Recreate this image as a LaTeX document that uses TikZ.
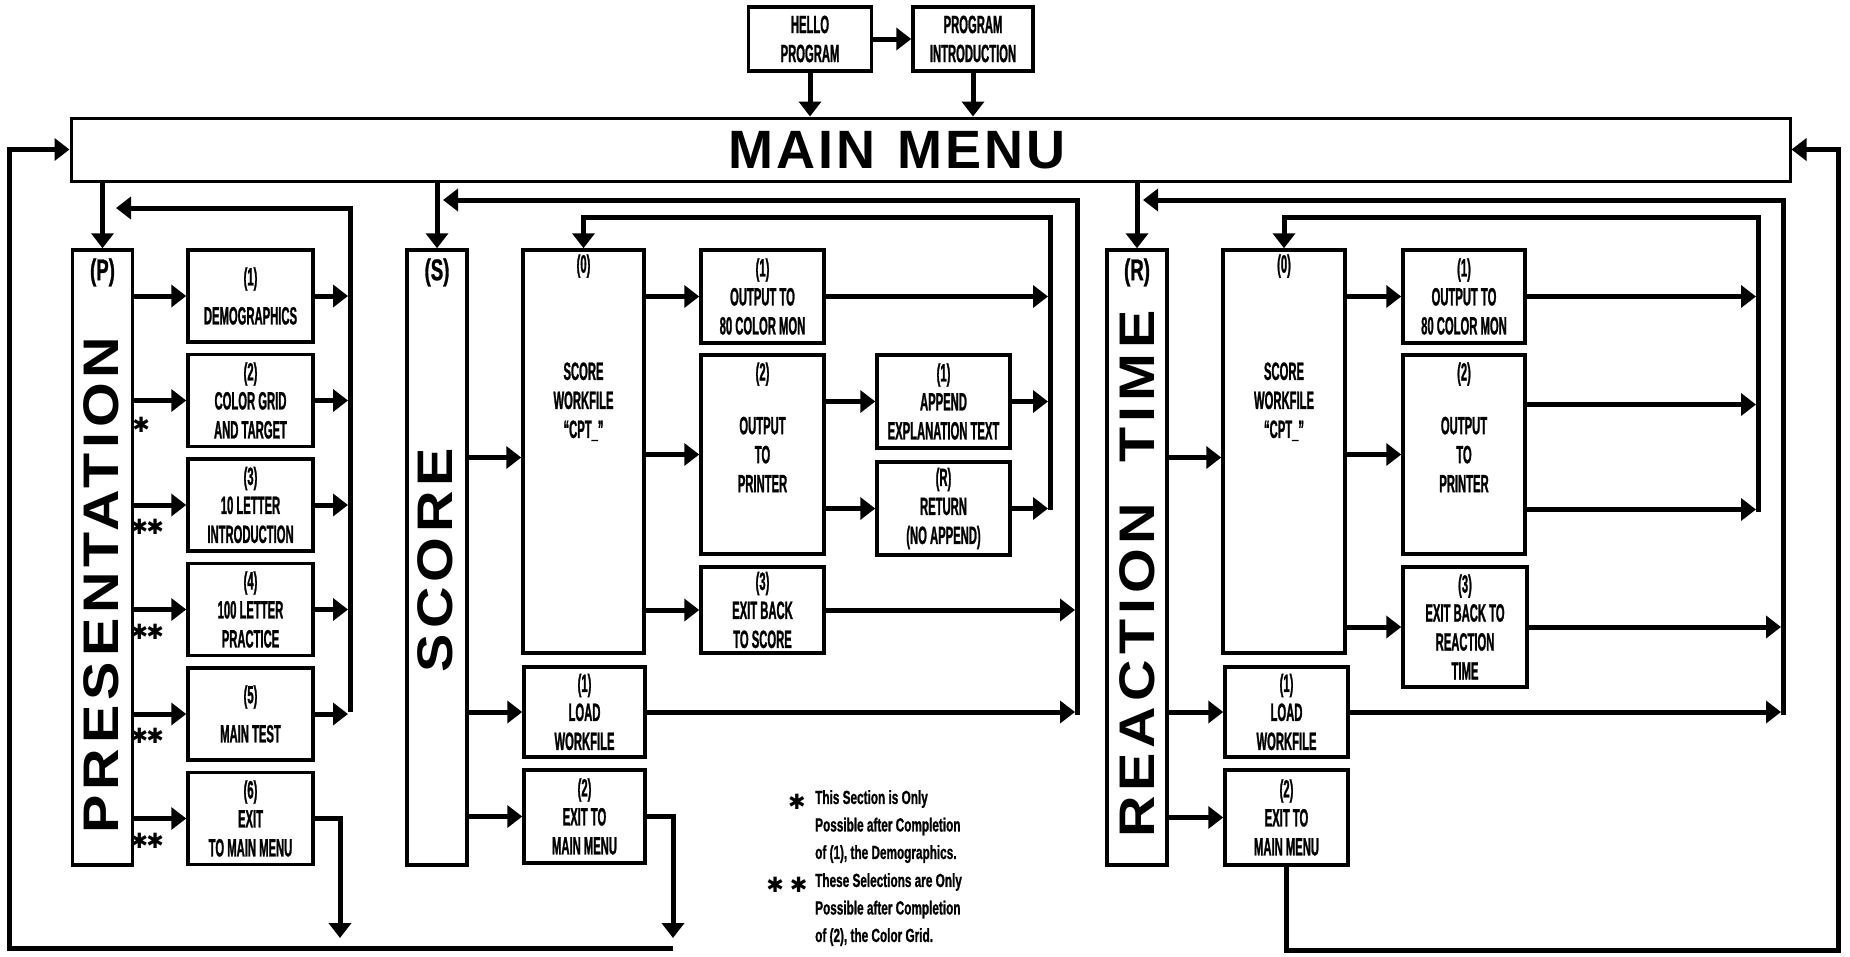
\documentclass[tikz,border=0pt]{standalone}
\usepackage{fontspec}
\setmainfont{Liberation Sans}
\newfontfamily\condfont[FakeStretch=0.45, FakeBold=1]{Liberation Sans}
\newfontfamily\notefont[FakeStretch=0.62, FakeBold=1]{Liberation Sans}
\newfontfamily\widefont[FakeStretch=1.15, LetterSpace=10]{Liberation Sans}
\newfontfamily\menufont[LetterSpace=6]{Liberation Sans}
\newfontfamily\symfont{DejaVu Sans}
\usetikzlibrary{positioning, calc, arrows.meta}

\begin{document}
\begin{tikzpicture}[
        x=1pt, y=-1pt,
        box/.style={rectangle, draw, line width=3.5pt, align=center, inner sep=0pt,
            font=\condfont\bfseries\fontsize{25}{29}\selectfont},
        pitem/.style={box, minimum width=125pt, minimum height=92pt},
        bar/.style={rectangle, draw, line width=3.5pt, minimum width=60pt, minimum height=615pt},
        txt/.style={align=center, inner sep=0pt, font=\condfont\bfseries\fontsize{25}{29}\selectfont},
        tag/.style={inner sep=0pt, font=\notefont\bfseries\fontsize{30}{30}\selectfont},
        big/.style={rotate=90, inner sep=0pt, font=\widefont\bfseries\fontsize{50}{50}\selectfont},
        arrow/.style={-{Triangle[length=15pt, width=22pt]}, line width=5pt},
        toline/.style={arrow, shorten >=2pt},
        star/.style={inner sep=0pt, font=\symfont\fontsize{21}{21}\selectfont},
        note/.style={anchor=north west, align=left, inner sep=0pt,
            font=\notefont\bfseries\fontsize{19}{27.5}\selectfont},
    ]
    \useasboundingbox (0,0) rectangle (1850,956);

    % ===== Top: start and main menu =====
    \node[box, minimum width=123pt, minimum height=64pt] (HELLO) at (810,39) {HELLO\\PROGRAM};
    \node[box, minimum width=120pt, minimum height=64pt] (INTRO) at (973,39) {PROGRAM\\INTRODUCTION};
    \node[box, line width=3pt, minimum width=1719pt, minimum height=63pt] (MENU) at (930.5,149.5) {};
    \node[font=\menufont\bfseries\fontsize{54}{54}\selectfont] (MENUT) at (897,150) {MAIN\hspace{0.4em}MENU};

    \draw[arrow] (HELLO) -- (INTRO);
    \draw[arrow] (HELLO.south) -- (HELLO.south |- MENU.north);
    \draw[arrow] (INTRO.south) -- (INTRO.south |- MENU.north);

    % ===== Column 1: Presentation =====
    \node[bar] (P) at (102.5,557.5) {};
    \node[tag, below=10pt of P.north] (PT) {(P)};
    \node[big] at (101,585) {PRESENTATION};

    \node[pitem] (P1) at (250.5,296) {(1)\\[10pt]DEMOGRAPHICS};
    \node[pitem, below=9pt of P1] (P2) {(2)\\COLOR GRID\\AND TARGET};
    \node[pitem, below=9pt of P2] (P3) {(3)\\10 LETTER\\INTRODUCTION};
    \node[pitem, below=9pt of P3] (P4) {(4)\\100 LETTER\\PRACTICE};
    \node[pitem, below=9pt of P4] (P5) {(5)\\[10pt]MAIN TEST};
    \node[pitem, below=9pt of P5] (P6) {(6)\\EXIT\\TO MAIN MENU};

    \coordinate (PRET) at (350,208);
    \coordinate (PRETB) at (350,712);
    \coordinate (PTIP) at (116,208);
    \coordinate (PEXIT) at (340,938);

    \draw[arrow] (P.north |- MENU.south) -- (P.north);
    \draw[arrow] (PRETB) -- (PRET) -- (PTIP);
    \foreach \i in {1,...,6}
        \draw[arrow] (P.east |- P\i.west) -- (P\i.west);
    \foreach \i in {1,...,5}
        \draw[toline] (P\i.east) -- (P\i.east -| PRET);
    \draw[arrow] (P6.east) -| (PEXIT);

    \node[star] at ($(P2.west)+(-45,24)$) {✱};
    \foreach \i in {3,...,6}
        \node[star] at ($(P\i.west)+(-39,22)$) {✱\hspace{-2pt}✱};

    % ===== Column 2: Score =====
    \node[bar] (S) at (437,557.5) {};
    \node[tag, below=10pt of S.north] (ST) {(S)};
    \node[big] at (435,560) {SCORE};

    \node[box, minimum width=121pt, minimum height=403pt] (S0) at (583.5,451.5) {};
    \node[txt, below=6pt of S0.north] {(0)};
    \node[txt, below=114pt of S0.north] {SCORE\\WORKFILE\\“CPT\_”};
    \node[box, minimum width=123pt, minimum height=93pt] (S1) at (762.5,296.5) {(1)\\OUTPUT TO\\80 COLOR MON};
    \node[box, minimum width=123pt, minimum height=199pt] (S2) at (762.5,454.5) {OUTPUT\\TO\\PRINTER};
    \node[txt, below=9pt of S2.north] {(2)};
    \node[box, minimum width=123pt, minimum height=86pt] (S3) at (762.5,610) {(3)\\EXIT BACK\\TO SCORE};
    \node[box, minimum width=133pt, minimum height=93pt] (SA) at (943.5,401.5) {(1)\\APPEND\\EXPLANATION TEXT};
    \node[box, minimum width=133pt, minimum height=93pt] (SR) at (943.5,508.5) {(R)\\RETURN\\(NO APPEND)};
    \node[box, minimum width=121pt, minimum height=90pt] (SL) at (584.5,712) {(1)\\LOAD\\WORKFILE};
    \node[box, minimum width=121pt, minimum height=93pt] (SE) at (584.5,816.5) {(2)\\EXIT TO\\MAIN MENU};

    \coordinate (SOUT) at (1077,200);
    \coordinate (SOUTB) at (1077,715);
    \coordinate (STIP) at (443,200);
    \coordinate (SIN) at (1050,217);
    \coordinate (SINB) at (1050,510);
    \coordinate (S0IN) at ([yshift=-6pt]S0.west);
    \coordinate (SEXIT) at (673,938);

    \draw[arrow] (S.north |- MENU.south) -- (S.north);
    \draw[arrow] (SOUTB) -- (SOUT) -- (STIP);
    \draw[arrow] (SINB) -- (SIN) -| (S0.north);
    \draw[arrow] (S.east |- S0IN) -- (S0IN);
    \draw[arrow] (S.east |- SL.west) -- (SL.west);
    \draw[arrow] (S.east |- SE.west) -- (SE.west);
    \foreach \n in {S1,S2,S3}
        \draw[arrow] (S0.east |- \n.west) -- (\n.west);
    \draw[arrow] (S2.east |- SA.west) -- (SA.west);
    \draw[arrow] (S2.east |- SR.west) -- (SR.west);
    \foreach \n in {S1,SA,SR}
        \draw[toline] (\n.east) -- (\n.east -| SIN);
    \foreach \n in {S3,SL}
        \draw[toline] (\n.east) -- (\n.east -| SOUT);
    \draw[arrow] (SE.east) -| (SEXIT);

    % back to main menu, left side
    \coordinate (BOTS) at (673,948);
    \coordinate (BOTL) at (9,948);
    \draw[arrow] (BOTS) -- (BOTL) -- (BOTL |- MENU.west) -- (MENU.west);

    % ===== Column 3: Reaction time =====
    \node[bar] (R) at (1137,557.5) {};
    \node[tag, below=10pt of R.north] (RT) {(R)};
    \node[big] at (1137,574) {REACTION\hspace{0.8em}TIME};

    \node[box, minimum width=122pt, minimum height=403pt] (R0) at (1284,451.5) {};
    \node[txt, below=6pt of R0.north] {(0)};
    \node[txt, below=114pt of R0.north] {SCORE\\WORKFILE\\“CPT\_”};
    \node[box, minimum width=122pt, minimum height=93pt] (R1) at (1464,296.5) {(1)\\OUTPUT TO\\80 COLOR MON};
    \node[box, minimum width=122pt, minimum height=199pt] (R2) at (1464,454.5) {OUTPUT\\TO\\PRINTER};
    \node[txt, below=9pt of R2.north] {(2)};
    \node[box, minimum width=124pt, minimum height=120pt] (R3) at (1465,627) {(3)\\EXIT BACK TO\\REACTION\\TIME};
    \node[box, minimum width=123pt, minimum height=90pt] (RL) at (1286.5,712) {(1)\\LOAD\\WORKFILE};
    \node[box, minimum width=123pt, minimum height=95pt] (RE) at (1286.5,817.5) {(2)\\EXIT TO\\MAIN MENU};

    \coordinate (ROUT) at (1783,200);
    \coordinate (ROUTB) at (1783,715);
    \coordinate (RTIP) at (1143,200);
    \coordinate (RIN) at (1758,217);
    \coordinate (RINB) at (1758,512);
    \coordinate (R0IN) at ([yshift=-6pt]R0.west);
    \coordinate (R2UP) at ([yshift=50pt]R2.east);
    \coordinate (R2DN) at ([yshift=-55pt]R2.east);
    \coordinate (RBOT) at (1838,950);

    \draw[arrow] (R.north |- MENU.south) -- (R.north);
    \draw[arrow] (ROUTB) -- (ROUT) -- (RTIP);
    \draw[arrow] (RINB) -- (RIN) -| (R0.north);
    \draw[arrow] (R.east |- R0IN) -- (R0IN);
    \draw[arrow] (R.east |- RL.west) -- (RL.west);
    \draw[arrow] (R.east |- RE.west) -- (RE.west);
    \foreach \n in {R1,R2,R3}
        \draw[arrow] (R0.east |- \n.west) -- (\n.west);
    \draw[toline] (R1.east) -- (R1.east -| RIN);
    \draw[toline] (R2UP) -- (R2UP -| RIN);
    \draw[toline] (R2DN) -- (R2DN -| RIN);
    \foreach \n in {R3,RL}
        \draw[toline] (\n.east) -- (\n.east -| ROUT);

    % back to main menu, right side
    \draw[arrow] (RE.south) |- (RBOT) -- (RBOT |- MENU.east) -- (MENU.east);

    % ===== Notes =====
    \node[star] (B1) at (797,802) {✱};
    \node[note] (N1) at (815,790) {This Section is Only\\Possible after Completion\\of (1), the Demographics.};
    \node[star] (B2) at (787,885) {✱\hspace{6pt}✱};
    \node[note] (N2) at (815,873) {These Selections are Only\\Possible after Completion\\of (2), the Color Grid.};

\end{tikzpicture}
\end{document}
